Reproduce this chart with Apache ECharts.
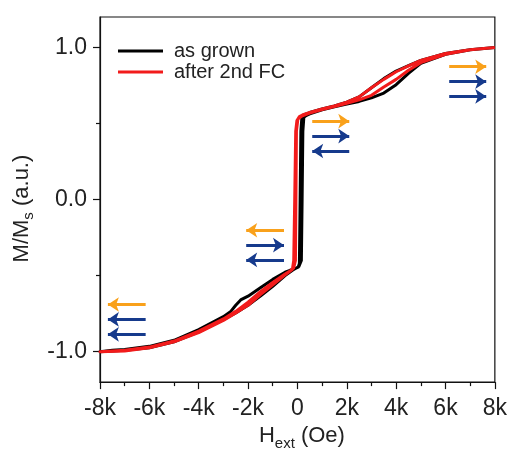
<!DOCTYPE html>
<html><head><meta charset="utf-8">
<script src="https://cdn.jsdelivr.net/npm/echarts@6/dist/echarts.min.js"></script>
<style>html,body{margin:0;padding:0;background:#fff}#c{width:510px;height:456px}</style>
</head><body><div id="c"></div>
<script>
// ---- data (H in Oe, M/Ms) ----
const blackDescH = [8000, 7000, 6000, 5000, 4500, 4000, 3500, 3000, 2500, 2000, 1500, 1000, 500, 250, 180, 140, 110, 80, 30, -100, -300, -500, -1000, -1500, -2000, -2300, -2500, -2700, -3000, -4000, -5000, -6000, -7000, -7500, -8000];
const blackDescM = [1.0, 0.985, 0.96, 0.915, 0.88, 0.845, 0.795, 0.735, 0.675, 0.64, 0.615, 0.595, 0.572, 0.556, 0.54, 0.45, 0.0, -0.42, -0.445, -0.455, -0.465, -0.478, -0.525, -0.58, -0.635, -0.66, -0.695, -0.735, -0.77, -0.855, -0.925, -0.965, -0.985, -0.99, -1.0];
const blackAscH = [-8000, -7500, -7000, -6000, -5000, -4000, -3000, -2500, -2000, -1500, -1000, -500, -200, 60, 160, 190, 220, 260, 350, 500, 1000, 1500, 2000, 2500, 3000, 3500, 4000, 4500, 5000, 6000, 7000, 8000];
const blackAscM = [-1.0, -0.995, -0.99, -0.975, -0.935, -0.87, -0.79, -0.745, -0.695, -0.635, -0.57, -0.50, -0.465, -0.44, -0.40, 0.0, 0.45, 0.54, 0.552, 0.563, 0.59, 0.61, 0.628, 0.645, 0.668, 0.70, 0.755, 0.83, 0.895, 0.955, 0.985, 1.0];

const redDescH = [8000, 7000, 6000, 5000, 4500, 4000, 3500, 3000, 2500, 2000, 1500, 1000, 500, 200, 80, -20, -70, -110, -150, -200, -300, -500, -1000, -1500, -2000, -2500, -3000, -4000, -5000, -6000, -7000, -8000];
const redDescM = [1.0, 0.985, 0.96, 0.915, 0.878, 0.84, 0.79, 0.735, 0.675, 0.64, 0.615, 0.595, 0.572, 0.556, 0.546, 0.52, 0.45, 0.0, -0.40, -0.455, -0.47, -0.49, -0.545, -0.605, -0.675, -0.735, -0.785, -0.865, -0.93, -0.97, -0.99, -1.0];
const redAscH = [-8000, -7000, -6000, -5000, -4000, -3000, -2500, -2000, -1500, -1000, -500, -250, -150, -80, -40, 20, 200, 500, 1000, 1500, 2000, 2500, 3000, 3500, 4000, 4500, 5000, 6000, 7000, 8000];
const redAscM = [-1.005, -0.995, -0.975, -0.935, -0.875, -0.795, -0.745, -0.695, -0.625, -0.56, -0.495, -0.465, -0.45, -0.40, 0.45, 0.53, 0.55, 0.568, 0.592, 0.612, 0.632, 0.655, 0.685, 0.74, 0.79, 0.85, 0.90, 0.955, 0.985, 1.0];

const seriesNames = ['as grown', 'after 2nd FC'];
const xTicks = [-8000, -6000, -4000, -2000, 0, 2000, 4000, 6000, 8000];
const yMajorTicks = [-1, 0, 1];
const yMinorTicks = [-0.5, 0.5];

// field-direction arrows
const arrowStartH = [6150, 6150, 6150, 600, 600, 2100, -544, -2076, -544, -6150, -6150, -6150];
const arrowEndH   = [7650, 7650, 7650, 2100, 2100, 600, -2076, -544, -2076, -7680, -7680, -7680];
const arrowM      = [0.873, 0.775, 0.678, 0.515, 0.417, 0.319, -0.202, -0.300, -0.397, -0.69, -0.788, -0.886];
const arrowKind   = ['o', 'b', 'b', 'o', 'b', 'b', 'o', 'b', 'b', 'o', 'b', 'b'];

const FONT = 'Liberation Sans';
const ORANGE = '#F9A11B', BLUE = '#163A8C';
const LINE_ICON = 'path://M0,0L45,0L45,3L0,3Z';

function loop(dH, dM, aH, aM) {
  const pts = [];
  dH.forEach((h, i) => pts.push([h, dM[i]]));
  aH.forEach((h, i) => pts.push([h, aM[i]]));
  return pts;
}

const chart = echarts.init(document.getElementById('c'), null, {renderer: 'canvas'});
chart.setOption({
  animation: false,
  backgroundColor: '#fff',
  grid: {left: 100, right: 13, top: 17, bottom: 71, show: true, borderColor: '#111', borderWidth: 1.2, backgroundColor: 'transparent'},
  legend: {
    data: [{name: seriesNames[0], icon: LINE_ICON, itemStyle: {color: '#000'}},
           {name: seriesNames[1], icon: LINE_ICON, itemStyle: {color: '#F21B1B'}}],
    orient: 'vertical', left: 118, top: 41, padding: 0,
    itemWidth: 45, itemHeight: 14, itemGap: 1,
    textStyle: {fontFamily: FONT, fontSize: 20, color: '#222', lineHeight: 20, padding: [0, 0, 0, 6]}
  },
  xAxis: {
    type: 'value', min: -8000, max: 8000, interval: 2000,
    name: '{a|H}{s|ext}{a| (Oe)}', nameLocation: 'middle', nameGap: 38,
    nameTextStyle: {padding: [0, 0, 0, 9], rich: {
      a: {fontFamily: FONT, fontSize: 22, color: '#222', lineHeight: 30},
      s: {fontFamily: FONT, fontSize: 15, color: '#222', lineHeight: 4, verticalAlign: 'bottom'}
    }},
    axisLine: {show: true, onZero: false, lineStyle: {color: '#111', width: 1.2}},
    axisTick: {show: true, inside: false, length: 7, lineStyle: {color: '#111', width: 1.2}},
    minorTick: {show: true, splitNumber: 2, length: 4, lineStyle: {color: '#111', width: 1.2}},
    splitLine: {show: false},
    axisLabel: {margin: 15, fontFamily: FONT, fontSize: 23, color: '#222',
      formatter: v => xTicks.indexOf(v) >= 0 ? (v === 0 ? '0' : (v / 1000) + 'k') : ''}
  },
  yAxis: [{
    type: 'value', min: -1.2, max: 1.2, position: 'left',
    name: '{a|M/M}{s|s}{a| (a.u.)}', nameLocation: 'middle', nameRotate: 90, nameGap: 58,
    nameTextStyle: {padding: [0, 18, 0, 0], rich: {
      a: {fontFamily: FONT, fontSize: 22, color: '#222', lineHeight: 30},
      s: {fontFamily: FONT, fontSize: 15, color: '#222', lineHeight: 4, verticalAlign: 'bottom'}
    }},
    axisLine: {show: true, onZero: false, lineStyle: {color: '#111', width: 1.2}},
    axisTick: {show: true, length: 7, customValues: yMajorTicks, lineStyle: {color: '#111', width: 1.2}},
    axisLabel: {margin: 13, fontFamily: FONT, fontSize: 23, color: '#222', customValues: yMajorTicks,
      formatter: v => v.toFixed(1)},
    splitLine: {show: false}
  }, {
    type: 'value', min: -1.2, max: 1.2, position: 'left',
    axisLine: {show: false, onZero: false},
    axisTick: {show: true, length: 4, customValues: yMinorTicks, lineStyle: {color: '#111', width: 1.2}},
    axisLabel: {show: false},
    splitLine: {show: false}
  }],
  series: [{
    name: seriesNames[0], type: 'line', xAxisIndex: 0, yAxisIndex: 0,
    data: loop(blackDescH, blackDescM, blackAscH, blackAscM),
    showSymbol: false, symbol: 'none', smooth: false,
    lineStyle: {color: '#000', width: 3, join: 'round'}, itemStyle: {color: '#000'}, z: 2
  }, {
    name: seriesNames[1], type: 'line', xAxisIndex: 0, yAxisIndex: 0,
    data: loop(redDescH, redDescM, redAscH, redAscM),
    showSymbol: false, symbol: 'none', smooth: false,
    lineStyle: {color: '#F21B1B', width: 3, join: 'round'}, itemStyle: {color: '#F21B1B'}, z: 3
  }, {
    type: 'lines', coordinateSystem: 'cartesian2d', xAxisIndex: 0, yAxisIndex: 0,
    symbol: ['none', 'arrow'], symbolSize: 11, silent: true, z: 4,
    lineStyle: {width: 3, opacity: 1, curveness: 0},
    data: arrowStartH.map((h, i) => ({
      coords: [[h, arrowM[i]], [arrowEndH[i], arrowM[i]]],
      lineStyle: {color: arrowKind[i] === 'o' ? ORANGE : BLUE}
    }))
  }]
});
</script></body></html>
